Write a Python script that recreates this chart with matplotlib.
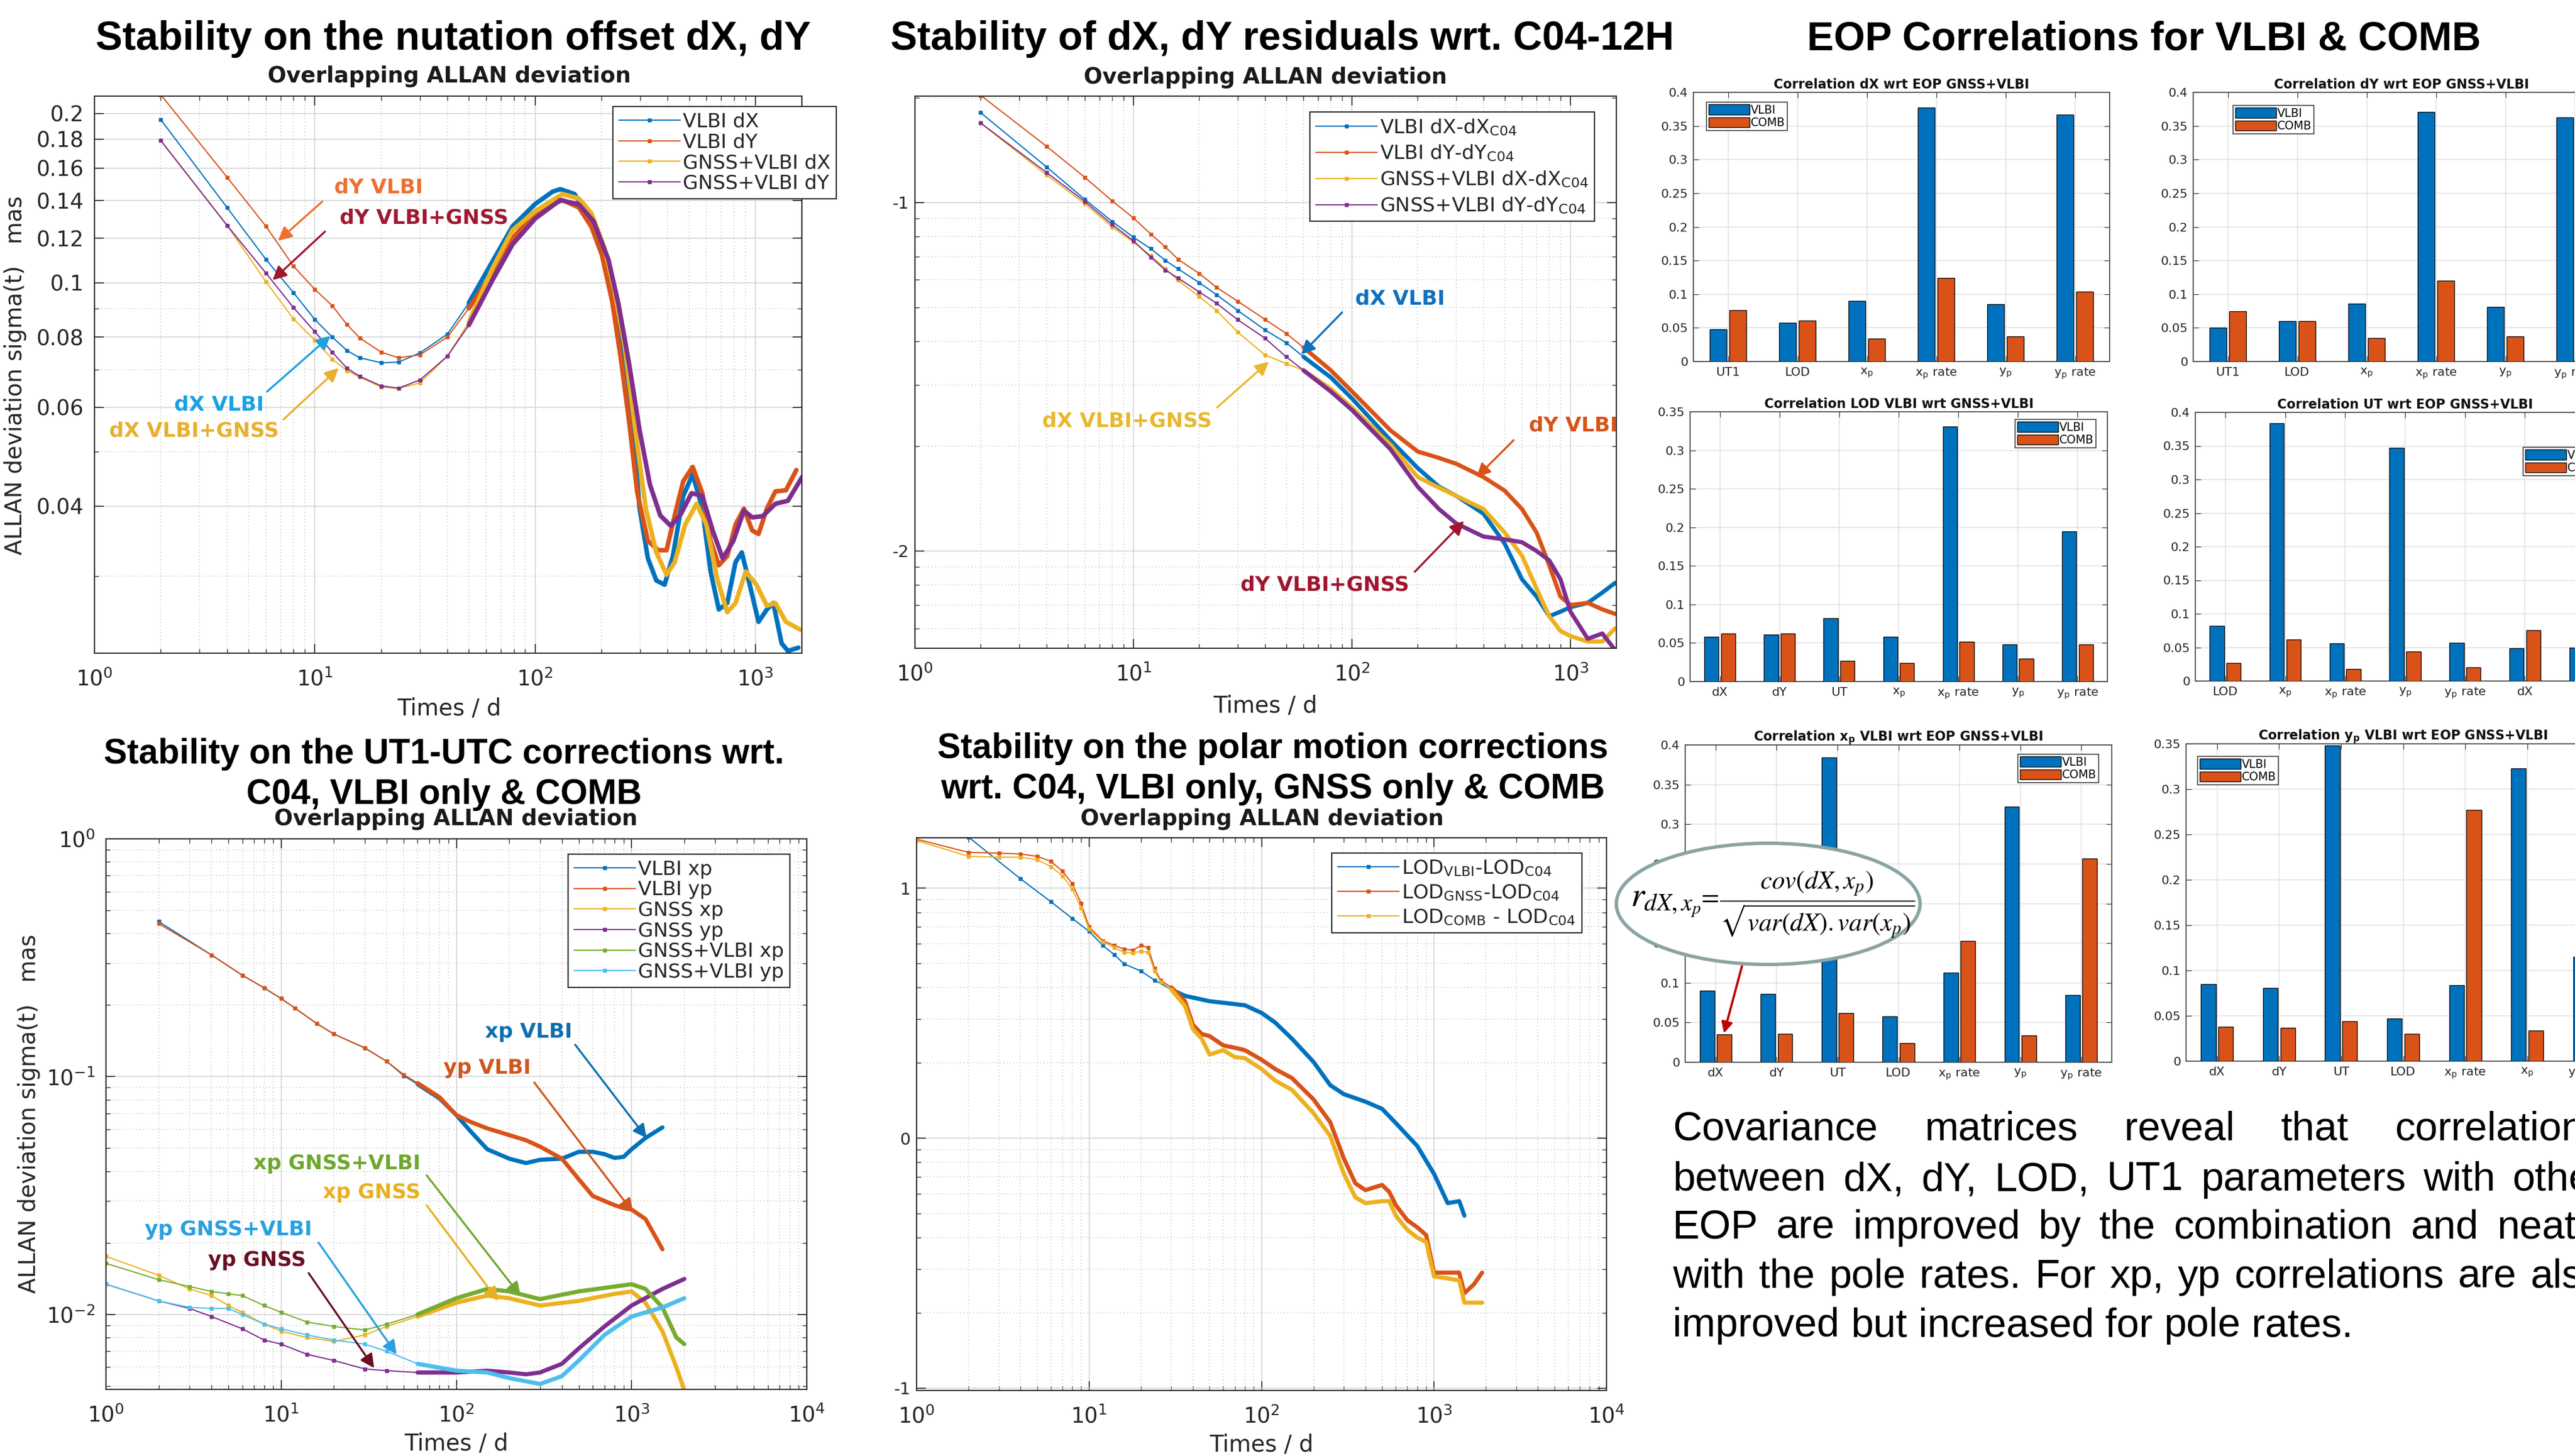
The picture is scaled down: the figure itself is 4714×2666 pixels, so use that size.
import numpy as np
import matplotlib
matplotlib.use('Agg')
import matplotlib.pyplot as plt
from matplotlib.patches import Ellipse
from matplotlib.ticker import NullFormatter

plt.rcParams['font.family'] = ['DejaVu Sans']
plt.rcParams['mathtext.fontset'] = 'stix'

# ---------------- data (read off the poster) ----------------
# nutation offsets dX, dY  (Allan deviation, mas)
nut_tau_vlbi_dx = [2, 4, 6, 8, 10, 12, 14, 16, 20, 24, 30, 40, 50, 64, 79, 100, 120, 130, 151, 176, 206, 229, 255,
                   279, 298, 325, 355, 387, 422, 470, 519, 574, 626, 682, 745, 812, 867, 946, 1033, 1127, 1205, 1315,
                   1404, 1566]
nut_vlbi_dx = [0.195, 0.136, 0.110, 0.096, 0.086, 0.080, 0.0757, 0.0735, 0.0720, 0.0722, 0.075, 0.081, 0.092, 0.109,
               0.126, 0.138, 0.1452, 0.1467, 0.1438, 0.1307, 0.112, 0.0935, 0.0697, 0.0546, 0.0396, 0.0323, 0.0295,
               0.0290, 0.0326, 0.0417, 0.0456, 0.0396, 0.0306, 0.0262, 0.0269, 0.0318, 0.0331, 0.0288, 0.0249, 0.0262,
               0.0269, 0.0228, 0.0221, 0.0224]
nut_tau_vlbi_dy = [2, 4, 6, 8, 10, 12, 14, 16, 20, 24, 30, 40, 50, 64, 79, 100, 133, 158, 180, 201, 224, 245, 267,
                   291, 325, 362, 395, 430, 470, 519, 574, 626, 682, 745, 812, 887, 967, 1033, 1127, 1232, 1375, 1534]
nut_vlbi_dy = [0.216, 0.154, 0.126, 0.107, 0.0973, 0.091, 0.0842, 0.0797, 0.0752, 0.0735, 0.0744, 0.080, 0.090, 0.104,
               0.120, 0.133, 0.1403, 0.1361, 0.1258, 0.112, 0.0924, 0.0732, 0.0567, 0.0422, 0.0347, 0.0334, 0.0334,
               0.0385, 0.0443, 0.0470, 0.0422, 0.0347, 0.0314, 0.0326, 0.0371, 0.0396, 0.0362, 0.0357, 0.0396, 0.0425,
               0.0427, 0.0464]
nut_tau_comb_dx = [2, 4, 6, 8, 10, 12, 14, 16, 20, 24, 30, 40, 50, 64, 79, 100, 133, 158, 180, 206, 229, 255, 285,
                   318, 355, 395, 430, 480, 541, 599, 668, 745, 812, 904, 1010, 1127, 1232, 1375, 1604]
nut_comb_dx = [0.179, 0.1264, 0.1004, 0.0862, 0.079, 0.0731, 0.0697, 0.0679, 0.0652, 0.0648, 0.0663, 0.074, 0.085,
               0.106, 0.124, 0.134, 0.1438, 0.1412, 0.1329, 0.1155, 0.0970, 0.0770, 0.0546, 0.0396, 0.0331, 0.0302,
               0.0318, 0.0371, 0.0404, 0.0371, 0.0299, 0.0259, 0.0269, 0.0306, 0.0290, 0.0266, 0.0269, 0.0249, 0.0241]
nut_tau_comb_dy = [2, 4, 6, 8, 10, 12, 14, 16, 20, 24, 30, 40, 50, 64, 79, 100, 130, 158, 184, 215, 239, 267, 298,
                   332, 370, 413, 460, 513, 574, 640, 710, 794, 887, 967, 1079, 1232, 1404, 1630]
nut_comb_dy = [0.179, 0.1264, 0.104, 0.0903, 0.0818, 0.0752, 0.0704, 0.0681, 0.0655, 0.0649, 0.0671, 0.074, 0.084,
               0.101, 0.117, 0.130, 0.1403, 0.1378, 0.1287, 0.110, 0.0916, 0.0717, 0.0546, 0.0437, 0.0385, 0.0369,
               0.0388, 0.0422, 0.0417, 0.0362, 0.0323, 0.0347, 0.0393, 0.0382, 0.0384, 0.0404, 0.0409, 0.0451]

# dX, dY residuals wrt C04
res_tau = [2, 4, 6, 8, 10, 12, 14, 16, 20, 24, 30, 40, 50, 60, 80, 100, 150, 200, 250, 300, 400, 500, 600, 700, 800,
           900, 1000, 1200, 1400, 1600]
res_vlbi_dx = [0.181, 0.1265, 0.102, 0.0882, 0.0795, 0.0737, 0.0682, 0.0645, 0.0589, 0.0544, 0.0490, 0.0431, 0.0396,
               0.0361, 0.0315, 0.0274, 0.0208, 0.0173, 0.0153, 0.0144, 0.0128, 0.0105, 0.0083, 0.0074, 0.0065, 0.0067,
               0.0069, 0.0071, 0.0076, 0.0081]
res_vlbi_dy = [0.203, 0.145, 0.118, 0.101, 0.0903, 0.0812, 0.0746, 0.0687, 0.0626, 0.0571, 0.0521, 0.0462, 0.0421,
               0.0384, 0.033, 0.0287, 0.0222, 0.0193, 0.0185, 0.0178, 0.0163, 0.0149, 0.0132, 0.0113, 0.0091, 0.0074,
               0.0070, 0.0071, 0.0068, 0.0066]
res_comb_dx = [0.169, 0.120, 0.0991, 0.085, 0.077, 0.0704, 0.0646, 0.0598, 0.0537, 0.049, 0.0425, 0.0365, 0.0345,
               0.033, 0.0292, 0.0258, 0.0202, 0.0163, 0.0152, 0.0144, 0.0132, 0.0113, 0.0097, 0.0078, 0.0065, 0.0059,
               0.0057, 0.0055, 0.0055, 0.0060]
res_comb_dy = [0.169, 0.122, 0.1006, 0.0864, 0.0776, 0.0697, 0.0640, 0.0607, 0.0554, 0.0514, 0.0461, 0.0408, 0.0361,
               0.033, 0.0287, 0.0254, 0.0196, 0.0153, 0.0132, 0.0120, 0.0110, 0.0108, 0.0106, 0.0100, 0.0094, 0.0083,
               0.0067, 0.0056, 0.0058, 0.0052]

# polar motion xp, yp
pm_tau_vlbi = [2, 4, 6, 8, 10, 12, 16, 20, 30, 40, 50, 60, 80, 100, 120, 150, 200, 250, 300, 400, 500, 600, 700, 800,
               900, 1000, 1200, 1500]
pm_vlbi_xp = [0.449, 0.325, 0.267, 0.236, 0.213, 0.194, 0.167, 0.151, 0.132, 0.116, 0.101, 0.093, 0.0811, 0.0689,
              0.0591, 0.0495, 0.0452, 0.0433, 0.0447, 0.0452, 0.0483, 0.0483, 0.0472, 0.0455, 0.046, 0.0495, 0.0552,
              0.0612]
pm_vlbi_yp = [0.440, 0.325, 0.267, 0.236, 0.213, 0.194, 0.167, 0.151, 0.132, 0.116, 0.102, 0.094, 0.082, 0.0689,
              0.0646, 0.0606, 0.0568, 0.054, 0.0508, 0.0452, 0.0370, 0.0315, 0.030, 0.0288, 0.028, 0.0276, 0.0252,
              0.0188]
pm_tau_xp = [1, 2, 3, 4, 5, 6, 8, 10, 14, 20, 30, 40, 60, 100, 150, 200, 300, 500, 800, 1000, 1200, 1500, 1800, 2000]
pm_gnss_xp = [0.01755, 0.0146, 0.0128, 0.012, 0.0109, 0.0102, 0.0091, 0.0085, 0.0080, 0.0077, 0.0082, 0.0089, 0.0098,
              0.0112, 0.0120, 0.0117, 0.0109, 0.0114, 0.0122, 0.0125, 0.0112, 0.0085, 0.0060, 0.0048]
pm_comb_xp = [0.0164, 0.0140, 0.0131, 0.0125, 0.0122, 0.0120, 0.0109, 0.0102, 0.0093, 0.0089, 0.0086, 0.0091, 0.0100,
              0.0117, 0.0128, 0.0125, 0.0116, 0.0125, 0.0131, 0.0134, 0.0128, 0.0107, 0.0080, 0.0075]
pm_tau_gnss_yp = [1, 2, 3, 4, 6, 8, 10, 14, 20, 30, 40, 60, 100, 150, 200, 250, 300, 400, 500, 700, 1000, 1500, 2000]
pm_gnss_yp = [0.0134, 0.0114, 0.0106, 0.0098, 0.0087, 0.0078, 0.0075, 0.0068, 0.0064, 0.0059, 0.0058, 0.0057, 0.0057,
              0.0058, 0.0057, 0.0056, 0.0057, 0.0062, 0.0072, 0.0089, 0.0109, 0.0128, 0.0141]
pm_tau_comb_yp = [1, 2, 3, 4, 5, 6, 8, 10, 14, 20, 30, 40, 60, 100, 150, 200, 300, 400, 500, 700, 1000, 1500, 2000]
pm_comb_yp = [0.0134, 0.0114, 0.0107, 0.0106, 0.0106, 0.0100, 0.0091, 0.0087, 0.0082, 0.0078, 0.0075, 0.0070, 0.0062,
              0.0058, 0.0057, 0.0054, 0.0051, 0.0055, 0.0064, 0.0082, 0.0098, 0.0107, 0.0117]

# LOD
lod_tau_vlbi = [2, 4, 6, 8, 10, 12, 14, 16, 20, 24, 30, 36, 40, 50, 60, 80, 100, 120, 150, 200, 250, 300, 400, 500, 600,
                800, 1000, 1200, 1400, 1500]
lod_vlbi = [16.0, 10.9, 8.83, 7.56, 6.72, 5.90, 5.42, 4.97, 4.66, 4.28, 3.93, 3.71, 3.65, 3.53, 3.48, 3.40, 3.17, 2.90,
            2.50, 2.02, 1.63, 1.50, 1.40, 1.31, 1.15, 0.93, 0.72, 0.55, 0.56, 0.49]
lod_tau = [1, 2, 3, 4, 5, 6, 7, 8, 9, 10, 12, 14, 16, 18, 20, 22, 24, 26, 30, 36, 40, 45, 50, 60, 70, 80, 100, 120, 150,
           200, 250, 300, 350, 400, 500, 550, 600, 700, 800, 900, 1000, 1200, 1400, 1500, 1700, 1900]
lod_gnss = [15.7, 13.9, 13.8, 13.7, 13.4, 12.8, 11.7, 10.4, 8.68, 7.0, 6.16, 5.90, 5.70, 5.65, 5.90, 5.78, 4.77, 4.28,
            4.01, 3.53, 2.84, 2.61, 2.56, 2.35, 2.30, 2.25, 2.06, 1.89, 1.74, 1.43, 1.16, 0.83, 0.66, 0.62, 0.65, 0.61,
            0.54, 0.47, 0.44, 0.41, 0.29, 0.29, 0.29, 0.24, 0.26, 0.29]
lod_comb = [15.5, 13.4, 13.3, 13.3, 13.0, 12.2, 11.2, 9.9, 8.3, 6.86, 6.1, 5.78, 5.53, 5.50, 5.60, 5.53, 4.66, 4.22,
            3.93, 3.38, 2.73, 2.50, 2.16, 2.25, 2.11, 2.09, 1.89, 1.70, 1.56, 1.26, 1.02, 0.72, 0.58, 0.55, 0.56, 0.56,
            0.49, 0.43, 0.40, 0.385, 0.28, 0.275, 0.27, 0.22, 0.22, 0.22]

# correlations
corr_dx_cats = ['UT1', 'LOD', 'x$_{\\mathdefault{p}}$', 'x$_{\\mathdefault{p}}$ rate', 'y$_{\\mathdefault{p}}$',
                'y$_{\\mathdefault{p}}$ rate']
corr_dx_vlbi = [0.048, 0.058, 0.090, 0.377, 0.085, 0.367]
corr_dx_comb = [0.076, 0.061, 0.034, 0.124, 0.037, 0.104]
corr_dy_vlbi = [0.050, 0.060, 0.086, 0.371, 0.081, 0.363]
corr_dy_comb = [0.075, 0.060, 0.035, 0.120, 0.037, 0.100]
corr_lod_cats = ['dX', 'dY', 'UT', 'x$_{\\mathdefault{p}}$', 'x$_{\\mathdefault{p}}$ rate', 'y$_{\\mathdefault{p}}$',
                 'y$_{\\mathdefault{p}}$ rate']
corr_lod_vlbi = [0.058, 0.061, 0.082, 0.058, 0.331, 0.048, 0.195]
corr_lod_comb = [0.062, 0.062, 0.027, 0.024, 0.052, 0.030, 0.048]
corr_ut_cats = ['LOD', 'x$_{\\mathdefault{p}}$', 'x$_{\\mathdefault{p}}$ rate', 'y$_{\\mathdefault{p}}$',
                'y$_{\\mathdefault{p}}$ rate', 'dX', 'dY']
corr_ut_vlbi = [0.082, 0.384, 0.056, 0.347, 0.057, 0.049, 0.050]
corr_ut_comb = [0.027, 0.062, 0.018, 0.044, 0.020, 0.076, 0.075]
corr_xp_cats = ['dX', 'dY', 'UT', 'LOD', 'x$_{\\mathdefault{p}}$ rate', 'y$_{\\mathdefault{p}}$',
                'y$_{\\mathdefault{p}}$ rate']
corr_xp_vlbi = [0.090, 0.086, 0.384, 0.058, 0.113, 0.322, 0.085]
corr_xp_comb = [0.035, 0.036, 0.062, 0.024, 0.153, 0.034, 0.257]
corr_yp_cats = ['dX', 'dY', 'UT', 'LOD', 'x$_{\\mathdefault{p}}$ rate', 'x$_{\\mathdefault{p}}$',
                'y$_{\\mathdefault{p}}$ rate']
corr_yp_vlbi = [0.085, 0.081, 0.348, 0.047, 0.084, 0.323, 0.115]
corr_yp_comb = [0.038, 0.037, 0.044, 0.030, 0.277, 0.034, 0.040]

para_lines = ['Covariance matrices reveal that correlations',
              'between dX, dY, LOD, UT1 parameters with other',
              'EOP are improved by the combination and neatly',
              'with the pole rates. For xp, yp correlations are also',
              'improved but increased for pole rates.']

# ---------------- styling ----------------
BLUE, ORANGE, YELLOW, PURPLE = '#0072BD', '#D95319', '#EDB120', '#7E2F8E'
GREEN, LBLUE = '#77AC30', '#4DBEEE'
W, H = 4714, 2666


def box(x0, y0, x1, y1):
    # pixel box (y from top) -> figure rect
    return [x0 / W, 1 - y1 / H, (x1 - x0) / W, (y1 - y0) / H]


def fpos(x, y):
    return (x / W, 1 - y / H)


fig = plt.figure(figsize=(W / 100, H / 100), dpi=100)


def style_allan(ax):
    ax.set_xscale('log')
    ax.set_yscale('log')
    ax.grid(True, which='major', color='#d6d6d6', lw=1.3)
    ax.grid(True, which='minor', color='#bdbdbd', lw=1.1, ls=(0, (1, 3)))
    ax.tick_params(which='both', direction='in', top=True, right=True, colors='#262626')
    ax.tick_params(which='major', length=12, width=1.3, labelsize=28, pad=14)
    ax.tick_params(which='minor', length=6, width=1.0)
    ax.tick_params(axis='x', which='major', pad=20)
    ax.yaxis.set_minor_formatter(NullFormatter())
    ax.xaxis.set_minor_formatter(NullFormatter())
    for s in ax.spines.values():
        s.set_color('#262626')
        s.set_linewidth(1.6)


def allan_line(ax, tau, vals, color, label, thick_from, lw_thick=5.5):
    tau = np.asarray(tau, dtype=float)
    vals = np.asarray(vals, dtype=float)
    marks = [i for i in range(len(tau)) if tau[i] < thick_from]
    ax.plot(tau, vals, color=color, lw=1.6, marker='s', ms=4.5, markevery=marks, label=label)
    k = np.where(tau >= thick_from)[0]
    if len(k):
        # dense sampling at long averaging times makes the MATLAB curves look heavy
        ax.plot(tau[k[0]:], vals[k[0]:], color=color, lw=lw_thick, solid_joinstyle='round',
                solid_capstyle='round')


def allan_legend(ax, xy, fs=26, spacing=0.1):
    leg = ax.legend(loc='upper left', bbox_to_anchor=fpos(*xy), bbox_transform=fig.transFigure, fontsize=fs,
                    handlelength=3.1, handletextpad=0.15, borderpad=0.3, labelspacing=spacing, fancybox=False,
                    framealpha=1, edgecolor='#262626', borderaxespad=0)
    leg.get_frame().set_linewidth(1.6)
    for t in leg.get_texts():
        t.set_color('#262626')


# ---- top-left: nutation offsets ----
ax1 = fig.add_axes(box(173, 176, 1468, 1196))
style_allan(ax1)
allan_line(ax1, nut_tau_vlbi_dx, nut_vlbi_dx, BLUE, 'VLBI dX', 45, 6)
allan_line(ax1, nut_tau_vlbi_dy, nut_vlbi_dy, ORANGE, 'VLBI dY', 45, 6)
allan_line(ax1, nut_tau_comb_dx, nut_comb_dx, YELLOW, 'GNSS+VLBI dX', 45, 6)
allan_line(ax1, nut_tau_comb_dy, nut_comb_dy, PURPLE, 'GNSS+VLBI dY', 45, 6)
ax1.set_xlim(1, 1625)
ax1.set_ylim(0.0219, 0.2148)
yt = [0.04, 0.06, 0.08, 0.1, 0.12, 0.14, 0.16, 0.18, 0.2]
ax1.set_yticks(yt)
ax1.set_yticklabels(['0.04', '0.06', '0.08', '0.1', '0.12', '0.14', '0.16', '0.18', '0.2'])
ax1.set_xticks([1, 10, 100, 1000])
allan_legend(ax1, (1122, 195))

# ---- top-middle: residuals wrt C04 ----
ax2 = fig.add_axes(box(1675, 176, 2959, 1187))
style_allan(ax2)
allan_line(ax2, res_tau, res_vlbi_dx, BLUE, 'VLBI dX-dX$_{\\mathdefault{C04}}$', 60)
allan_line(ax2, res_tau, res_vlbi_dy, ORANGE, 'VLBI dY-dY$_{\\mathdefault{C04}}$', 60)
allan_line(ax2, res_tau, res_comb_dx, YELLOW, 'GNSS+VLBI dX-dX$_{\\mathdefault{C04}}$', 60)
allan_line(ax2, res_tau, res_comb_dy, PURPLE, 'GNSS+VLBI dY-dY$_{\\mathdefault{C04}}$', 60)
ax2.set_xlim(1, 1622)
ax2.set_ylim(0.00526, 0.202)
ax2.set_yticks([0.01, 0.1])
ax2.set_yticklabels(['-2', '-1'])
ax2.tick_params(axis='y', which='major', labelsize=22, pad=8)
ax2.set_xticks([1, 10, 100, 1000])
allan_legend(ax2, (2398, 205), spacing=0.35)

# ---- bottom-left: polar motion xp, yp ----
ax3 = fig.add_axes(box(194, 1536, 1477, 2544))
style_allan(ax3)
allan_line(ax3, pm_tau_vlbi, pm_vlbi_xp, BLUE, 'VLBI xp', 60)
allan_line(ax3, pm_tau_vlbi, pm_vlbi_yp, ORANGE, 'VLBI yp', 60)
allan_line(ax3, pm_tau_xp, pm_gnss_xp, YELLOW, 'GNSS xp', 60)
allan_line(ax3, pm_tau_gnss_yp, pm_gnss_yp, PURPLE, 'GNSS yp', 60)
allan_line(ax3, pm_tau_xp, pm_comb_xp, GREEN, 'GNSS+VLBI xp', 60)
allan_line(ax3, pm_tau_comb_yp, pm_comb_yp, LBLUE, 'GNSS+VLBI yp', 60)
ax3.set_xlim(1, 1e4)
ax3.set_ylim(0.00484, 1)
ax3.set_xticks([1, 10, 100, 1000, 10000])
ax3.set_yticks([0.01, 0.1, 1])
allan_legend(ax3, (1040, 1564))

# ---- bottom-middle: LOD ----
ax4 = fig.add_axes(box(1678, 1534, 2941, 2546))
style_allan(ax4)
allan_line(ax4, lod_tau_vlbi, lod_vlbi, BLUE, 'LOD$_{\\mathdefault{VLBI}}$-LOD$_{\\mathdefault{C04}}$', 30)
allan_line(ax4, lod_tau, lod_gnss, ORANGE, 'LOD$_{\\mathdefault{GNSS}}$-LOD$_{\\mathdefault{C04}}$', 30)
allan_line(ax4, lod_tau, lod_comb, YELLOW, 'LOD$_{\\mathdefault{COMB}}$ - LOD$_{\\mathdefault{C04}}$', 30)
ax4.set_xlim(1, 1e4)
ax4.set_ylim(0.098, 15.9)
ax4.set_xticks([1, 10, 100, 1000, 10000])
ax4.set_yticks([0.1, 1, 10])
ax4.set_yticklabels(['-1', '0', '1'])
ax4.tick_params(axis='y', which='major', labelsize=22, pad=8)
allan_legend(ax4, (2438, 1562), spacing=0.3)


# ---------------- correlation bar charts ----------------
def corr_bar(rect, cats, vlbi, comb, title, ymax, leg_xy):
    ax = fig.add_axes(box(*rect))
    x = np.arange(1, len(cats) + 1)
    ax.bar(x - 0.14, vlbi, 0.24, color=BLUE, edgecolor='black', lw=1.0, label='VLBI', zorder=3)
    ax.bar(x + 0.14, comb, 0.24, color=ORANGE, edgecolor='black', lw=1.0, label='COMB', zorder=3)
    ax.set_xlim(0.5, len(cats) + 0.5)
    ax.set_ylim(0, ymax)
    ax.set_xticks(x)
    ax.set_xticklabels(cats)
    yv = np.arange(0, ymax + 1e-9, 0.05)
    ax.set_yticks(yv)
    ax.set_yticklabels(['%g' % round(v, 2) for v in yv])
    ax.grid(True, color='#e3e3e3', lw=1.3)
    ax.set_axisbelow(True)
    ax.tick_params(direction='in', top=True, right=True, labelsize=16, length=7, colors='#262626', pad=7)
    for s in ax.spines.values():
        s.set_color('#4d4d4d')
        s.set_linewidth(1.4)
    ax.set_title(title, fontsize=17, fontweight='bold', pad=5, color='#111111')
    leg = ax.legend(loc='upper left', bbox_to_anchor=fpos(*leg_xy), bbox_transform=fig.transFigure, fontsize=15,
                    handlelength=3.6, handleheight=1.0, handletextpad=0.1, borderpad=0.2, labelspacing=0.15,
                    fancybox=False, framealpha=1, edgecolor='#333333', borderaxespad=0)
    leg.get_frame().set_linewidth(1.2)
    return ax


corr_bar((3100, 169, 3862, 662), corr_dx_cats, corr_dx_vlbi, corr_dx_comb,
         'Correlation dX wrt EOP GNSS+VLBI', 0.4, (3124, 187))
corr_bar((4015, 169, 4777, 662), corr_dx_cats, corr_dy_vlbi, corr_dy_comb,
         'Correlation dY wrt EOP GNSS+VLBI', 0.4, (4088, 193))
corr_bar((3094, 754, 3858, 1248), corr_lod_cats, corr_lod_vlbi, corr_lod_comb,
         'Correlation LOD VLBI wrt GNSS+VLBI', 0.35, (3689, 768))
corr_bar((4019, 755, 4787, 1247), corr_ut_cats, corr_ut_vlbi, corr_ut_comb,
         'Correlation UT wrt EOP GNSS+VLBI', 0.4, (4619, 819))
corr_bar((3085, 1364, 3866, 1945), corr_xp_cats, corr_xp_vlbi, corr_xp_comb,
         'Correlation x$_{\\mathdefault{p}}$ VLBI wrt EOP GNSS+VLBI', 0.4, (3694, 1381))
corr_bar((4002, 1362, 4797, 1943), corr_yp_cats, corr_yp_vlbi, corr_yp_comb,
         'Correlation y$_{\\mathdefault{p}}$ VLBI wrt EOP GNSS+VLBI', 0.35, (4023, 1385))

# ---------------- overlay in pixel coordinates ----------------
ov = fig.add_axes([0, 0, 1, 1], zorder=20)
ov.set_xlim(0, W)
ov.set_ylim(H, 0)
ov.axis('off')

HEAD = dict(family='Liberation Sans', fontweight='bold', ha='center', va='center', color='black')
ov.text(830, 72, 'Stability on the nutation offset dX, dY', fontsize=53, **HEAD)
ov.text(2347, 72, 'Stability of dX, dY residuals wrt. C04-12H', fontsize=53, **HEAD)
ov.text(3925, 72, 'EOP Correlations for VLBI & COMB', fontsize=53, **HEAD)
ov.text(813, 1381, 'Stability on the UT1-UTC corrections wrt.', fontsize=46, **HEAD)
ov.text(813, 1455, 'C04, VLBI only & COMB', fontsize=46, **HEAD)
ov.text(2330, 1371, 'Stability on the polar motion corrections', fontsize=46, **HEAD)
ov.text(2330, 1445, 'wrt. C04, VLBI only, GNSS only & COMB', fontsize=46, **HEAD)

SUB = dict(fontsize=29, fontweight='bold', ha='center', va='center', color='#1a1a1a')
for sx, sy in [(822, 140), (2317, 142), (834, 1500), (2310, 1500)]:
    ov.text(sx, sy, 'Overlapping ALLAN deviation', **SUB)

LAB = dict(fontsize=30, ha='center', va='center', color='#262626')
for lx, ly in [(822, 1298), (2316, 1293), (835, 2644), (2309, 2646)]:
    ov.text(lx, ly, 'Times / d', **LAB)
ov.text(28, 687, 'ALLAN deviation sigma(t)   mas', rotation=90, **LAB)
ov.text(53, 2039, 'ALLAN deviation sigma(t)   mas', rotation=90, **LAB)

# coloured call-outs: (label, colour, text xy, arrow tail, arrow head)
callouts = [
    ('dY VLBI', '#EE7030', (693, 344), (590, 369), (509, 441)),
    ('dY VLBI+GNSS', '#A01830', (776, 399), (595, 424), (499, 513)),
    ('dX VLBI', '#1BA1E2', (401, 742), (489, 717), (605, 615)),
    ('dX VLBI+GNSS', '#E8B030', (355, 789), (519, 768), (620, 674)),
    ('dX VLBI', '#1070BD', (2563, 547), (2457, 572), (2382, 649)),
    ('dX VLBI+GNSS', '#E8B830', (2063, 772), (2228, 746), (2323, 662)),
    ('dY VLBI', '#D95319', (2880, 779), (2771, 806), (2703, 874)),
    ('dY VLBI+GNSS', '#A0142E', (2425, 1071), (2590, 1047), (2680, 954)),
    ('xp VLBI', '#0B6FB0', (968, 1890), (1053, 1913), (1184, 2084)),
    ('yp VLBI', '#D0561E', (892, 1956), (978, 1982), (1159, 2220)),
    ('xp GNSS+VLBI', '#6EA82E', (617, 2131), (781, 2152), (953, 2373)),
    ('xp GNSS', '#E8B020', (680, 2184), (781, 2207), (912, 2382)),
    ('yp GNSS+VLBI', '#2AA0E0', (418, 2252), (583, 2275), (726, 2480)),
    ('yp GNSS', '#6A0F22', (471, 2308), (565, 2331), (685, 2505)),
]
for lab, col, txy, tail, head in callouts:
    ov.text(txy[0], txy[1], lab, color=col, fontsize=27, fontweight='bold', ha='center', va='center')
    ov.annotate('', xy=head, xytext=tail,
                arrowprops=dict(arrowstyle='-|>', color=col, lw=2.6, mutation_scale=38, shrinkA=0, shrinkB=0))

# formula bubble
ov.add_patch(Ellipse((3237, 1655), 556, 222, facecolor='white', edgecolor='#8aa3a3', lw=4.5, zorder=5))
ov.text(3114, 1650, r'$r_{dX,x_p}$', fontsize=46, ha='right', va='center', zorder=6)
ov.text(3108, 1656, r'$=\!\dfrac{cov(dX,x_p)}{\sqrt{var(dX).var(x_p)}}$', fontsize=34,
        ha='left', va='center', zorder=6)
ov.annotate('', xy=(3156, 1892), xytext=(3189, 1769),
            arrowprops=dict(arrowstyle='-|>', color='#C00000', lw=3, mutation_scale=30, shrinkA=0, shrinkB=0))

# justified paragraph
renderer = fig.canvas.get_renderer()
para_x0, para_x1 = 3062, 4769
para_base = [2088, 2180, 2268, 2358, 2447]
para_fs = 53.5
for i, line in enumerate(para_lines):
    words = line.split()
    ts = [ov.text(0, para_base[i], w, fontsize=para_fs, family='Liberation Sans', va='baseline', ha='left')
          for w in words]
    widths = [t.get_window_extent(renderer=renderer).width for t in ts]
    if i < len(para_lines) - 1:
        gap = (para_x1 - para_x0 - sum(widths)) / (len(words) - 1)
    else:
        gap = 0.278 * para_fs * 100 / 72
    x = para_x0
    for t, w in zip(ts, widths):
        t.set_x(x)
        x += w + gap

fig.savefig('out.png', dpi=100, facecolor='white')
